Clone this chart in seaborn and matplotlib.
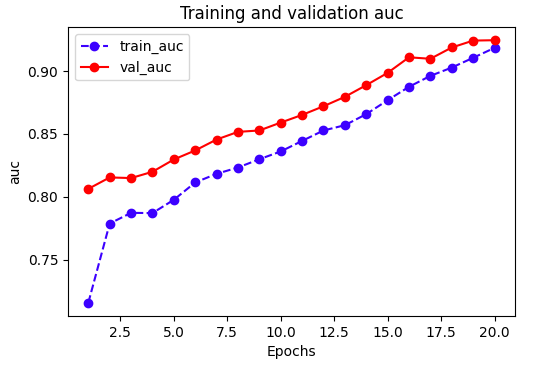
import matplotlib
matplotlib.use("Agg")
import matplotlib.pyplot as plt
import seaborn as sns

# values
epochs = list(range(1, 21))
train_auc = [0.7156, 0.7787, 0.7872, 0.7870, 0.7976, 0.8114, 0.8183, 0.8233, 0.8299, 0.8361,
             0.8445, 0.8528, 0.8570, 0.8658, 0.8769, 0.8876, 0.8963, 0.9029, 0.9107, 0.9186]
val_auc = [0.8063, 0.8154, 0.8149, 0.8199, 0.8297, 0.8369, 0.8456, 0.8517, 0.8528, 0.8591,
           0.8652, 0.8721, 0.8796, 0.8889, 0.8987, 0.9111, 0.9099, 0.9189, 0.9244, 0.9247]

fig = plt.figure(figsize=(5.53, 3.66), dpi=100)
ax = fig.add_axes([0.123, 0.137, 0.808, 0.789])

train_color = '#3c00ff'
val_color = '#ff0000'

sns.lineplot(x=epochs, y=train_auc, ax=ax, color=train_color, linestyle='--', marker='o',
             markersize=6, markeredgecolor=train_color, markeredgewidth=1, label='train_auc')
sns.lineplot(x=epochs, y=val_auc, ax=ax, color=val_color, linestyle='-', marker='o',
             markersize=6, markeredgecolor=val_color, markeredgewidth=1, label='val_auc')

ax.set_title('Training and validation auc')
ax.set_xlabel('Epochs')
ax.set_ylabel('auc')
ax.legend(loc='upper left')

fig.savefig('out.png', dpi=100)
